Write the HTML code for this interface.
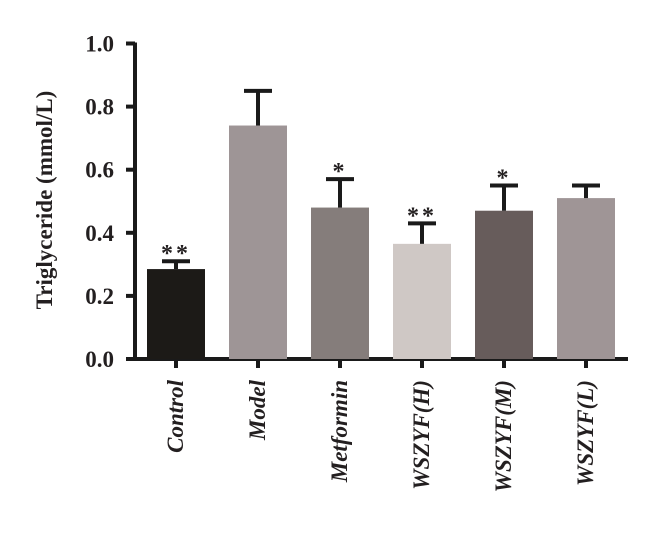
<!DOCTYPE html>
<html><head><meta charset="utf-8"><style>
html,body{margin:0;padding:0;background:#fff;}
svg{display:block;}
text{font-family:"Liberation Serif",serif;font-weight:bold;fill:#231f20;}
</style></head><body>
<svg id="chart" width="660" height="553" viewBox="0 0 660 553">
<g id="axes"></g><g id="bars"></g>
<text transform="translate(52,200) rotate(-90)" text-anchor="middle" font-size="23">Triglyceride (mmol/L)</text>
</svg>
<script>
const categories=["Control","Model","Metformin","WSZYF(H)","WSZYF(M)","WSZYF(L)"];
const means=[0.285,0.74,0.48,0.365,0.47,0.51];
const errors=[0.025,0.11,0.09,0.065,0.08,0.04];
const stars=["**","","*","**","*",""];
const colors=["#1c1a17","#9e9596","#857d7b","#cfc8c5","#675c5b","#9f9596"];
const yTicks=[0,0.2,0.4,0.6,0.8,1.0];
const NS="http://www.w3.org/2000/svg";
const y0=359,ypx=315.5,x0=176,step=82,bw=58;
const Y=v=>y0-v*ypx, X=i=>x0+i*step;
function mk(tag,attrs,parent){const e=document.createElementNS(NS,tag);for(const k in attrs)e.setAttribute(k,attrs[k]);parent.appendChild(e);return e;}
const axes=document.getElementById('axes'),bars=document.getElementById('bars');
let yl=mk('line',{x1:135,y1:Y(1)-1,x2:135,y2:y0+2,stroke:'#1a1a1a','stroke-width':4},axes);


let xl=mk('line',{x1:133,y1:y0,x2:628,y2:y0,stroke:'#1a1a1a','stroke-width':4},axes);


yTicks.forEach(t=>{
 let tk=mk('line',{x1:126,y1:Y(t),x2:135,y2:Y(t),stroke:'#1a1a1a','stroke-width':4},axes);
 
 
 let lb=mk('text',{x:114,y:Y(t)+8,'text-anchor':'end','font-size':23},axes);
 lb.textContent=t.toFixed(1);
 
 
});
categories.forEach((c,i)=>{
 const cx=X(i);
 let r=mk('rect',{x:cx-bw/2,y:Y(means[i]),width:bw,height:y0-Y(means[i]),fill:colors[i]},bars);
 
 
 const et=Y(means[i]+errors[i]);
 let el=mk('line',{x1:cx,y1:Y(means[i]),x2:cx,y2:et,stroke:'#1a1a1a','stroke-width':4},bars);
 
 
 let cap=mk('line',{x1:cx-14,y1:et,x2:cx+14,y2:et,stroke:'#1a1a1a','stroke-width':4},bars);
 
 
 if(stars[i]){
  let s=mk('text',{x:cx,y:et+4-4,'text-anchor':'middle','font-size':24,'font-weight':'normal','letter-spacing':'3'},bars);
  s.textContent=stars[i].split('').join('');
  
  
 }
 let tk=mk('line',{x1:cx,y1:y0,x2:cx,y2:y0+9,stroke:'#1a1a1a','stroke-width':4},axes);
 
 
 let lb=mk('text',{transform:`translate(${cx+7},380) rotate(-90)`,'text-anchor':'end','font-size':23,'font-style':'italic'},axes);
 lb.textContent=c;
 
 
});
</script>
</body></html>
